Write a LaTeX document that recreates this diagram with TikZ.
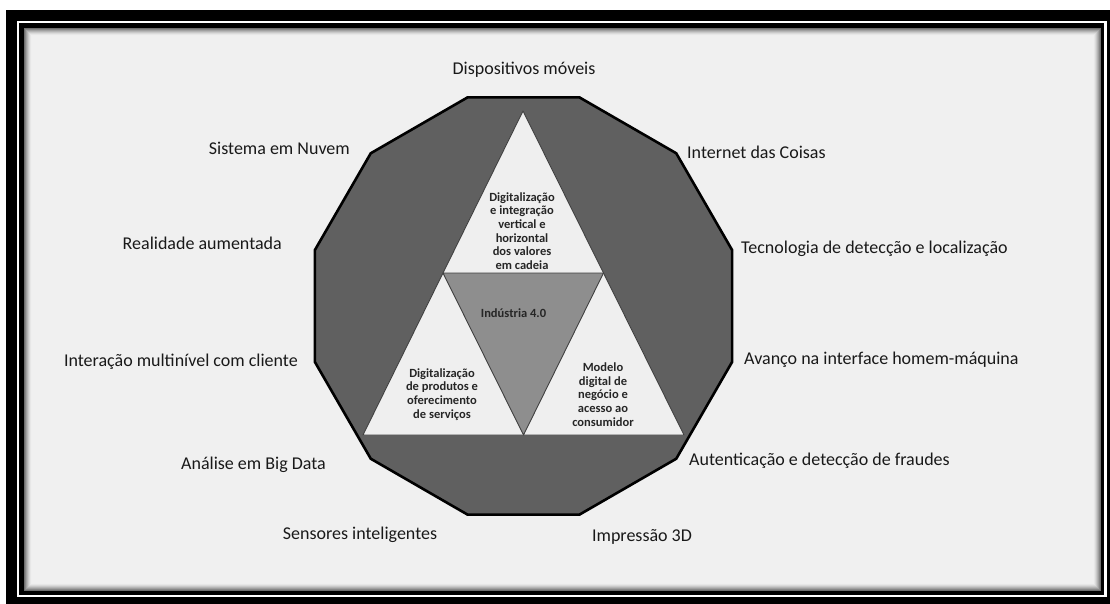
\documentclass[tikz,border=0pt]{standalone}
\usepackage{fontspec}
\setmainfont{Carlito}
\usetikzlibrary{calc}
\begin{document}
\begin{tikzpicture}[x=1pt,y=-1pt,
  lbl/.style={inner sep=0pt,font=\fontsize{18}{20}\selectfont,text=black!90},
  inlbl/.style={inner sep=0pt,align=center,font=\fontsize{12.5}{13.7}\selectfont\bfseries,text=black!85},
  tri/.style={draw=black!75,line width=0.9pt,line join=round}]
\definecolor{bgc}{HTML}{F0F0F0}
\definecolor{dodec}{HTML}{606060}
\definecolor{trilight}{HTML}{EFEFEF}
\definecolor{trimid}{HTML}{8E8E8E}
\useasboundingbox (0,0) rectangle (1110,604);
% frame
\fill[white] (0,0) rectangle (1110,604);
\fill[black] (6,10) rectangle (1110,604);
\fill[white] (17,21) rectangle (1107,597);
\fill[black] (19,23) rectangle (1104,595);
\fill[bgc] (24,28) rectangle (1101,591);
\foreach \i/\p in {0/20,1/35,2/50,3/62,4/74,5/84,6/92,7/97}{
  \draw[line width=1pt,color=bgc!\p!black!70] (24.5+\i,28.5+\i) rectangle (1100.5-\i,590.5-\i);
}
% dodecagon
\coordinate (C) at (523.5,306);
\draw[fill=dodec,line width=2.6pt,line join=miter]
  ($(C)+(15:216)$) \foreach \a in {45,75,...,345}{ -- ($(C)+(\a:216)$)} -- cycle;
% triangles
\coordinate (A) at (523,111);
\coordinate (BL) at (363,435);
\coordinate (BR) at (684,435);
\coordinate (ML) at (443,273);
\coordinate (MR) at (603.5,273);
\coordinate (MB) at (523.5,435);
\fill[trilight] (A) -- (BL) -- (BR) -- cycle;
\draw[tri,fill=trimid] (ML) -- (MR) -- (MB) -- cycle;
\draw[tri] (A) -- (BL) -- (BR) -- cycle;
% inner texts
\node[inlbl] (t1) at (522,231) {Digitalização\\e integração\\vertical e\\horizontal\\dos valores\\em cadeia};
\node[inlbl] (t2) at (442,394.5) {Digitalização\\de produtos e\\oferecimento\\de serviços};
\node[inlbl] (t3) at (603,394.5) {Modelo\\digital de\\negócio e\\acesso ao\\consumidor};
\node[inlbl] (t4) at (513.5,313) {Indústria 4.0};
% outer labels
\node[lbl] (l1) at (524,70) {Dispositivos móveis};
\node[lbl,anchor=west] (l2) at (687,152) {Internet das Coisas};
\node[lbl,anchor=west] (l3) at (741,249) {Tecnologia de detecção e localização};
\node[lbl,anchor=west] (l4) at (744,360) {Avanço na interface homem-máquina};
\node[lbl,anchor=west] (l5) at (689,461) {Autenticação e detecção de fraudes};
\node[lbl] (l6) at (642,537) {Impressão 3D};
\node[lbl] (l7) at (360,535) {Sensores inteligentes};
\node[lbl,anchor=east] (l8) at (326,465) {Análise em Big Data};
\node[lbl,anchor=east] (l9) at (298,362) {Interação multinível com cliente};
\node[lbl,anchor=east] (l10) at (282,243) {Realidade aumentada};
\node[lbl,anchor=east] (l11) at (350,148) {Sistema em Nuvem};
\end{tikzpicture}
\end{document}
